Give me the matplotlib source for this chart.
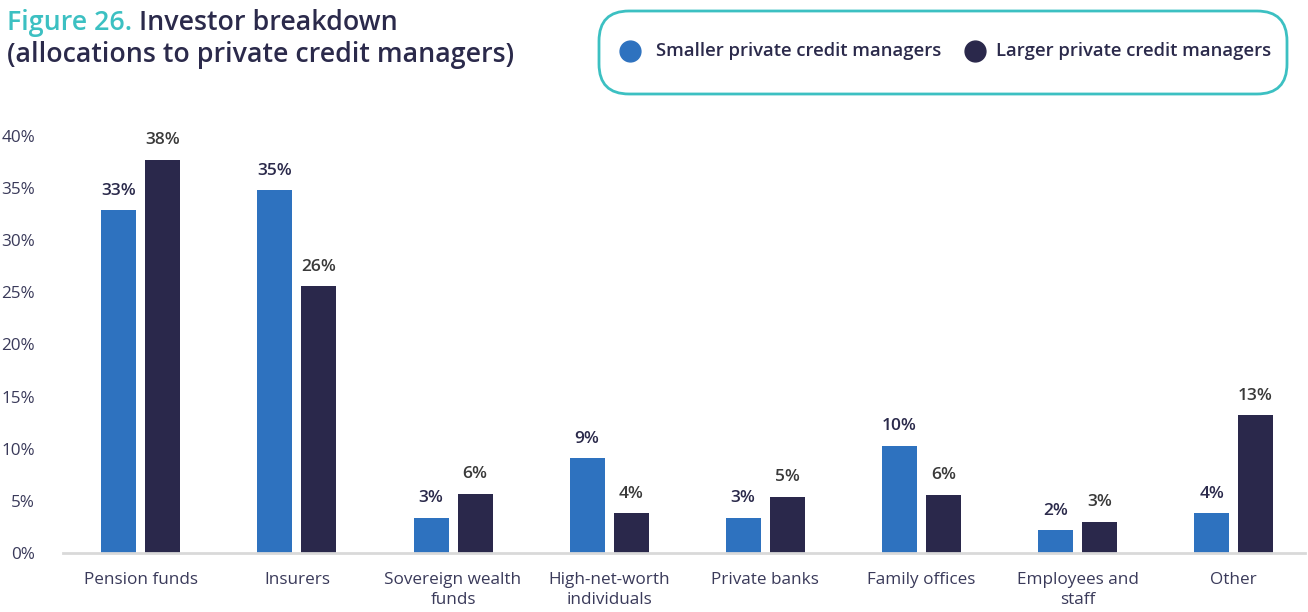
import matplotlib.pyplot as plt
import numpy as np
from matplotlib.patches import FancyBboxPatch
from matplotlib.lines import Line2D

categories = ['Pension funds', 'Insurers', 'Sovereign wealth\nfunds', 'High-net-worth\nindividuals',
              'Private banks', 'Family offices', 'Employees and\nstaff', 'Other']
smaller = [32.9, 34.8, 3.4, 9.1, 3.4, 10.3, 2.2, 3.8]
larger = [37.7, 25.6, 5.7, 3.8, 5.4, 5.6, 3.0, 13.2]
series_names = ['Smaller private credit managers', 'Larger private credit managers']
yticks = [0, 5, 10, 15, 20, 25, 30, 35, 40]

c_small = '#2e72bf'
c_large = '#2a284b'
navy = '#2b2a4b'
teal = '#3cc0c2'

plt.rcParams['font.family'] = ['Open Sans', 'DejaVu Sans']

fig = plt.figure(figsize=(13.08, 6.12), dpi=100)
ax = fig.add_axes([0.048, 0.0964, 0.95, 0.6814])

x = np.arange(len(categories))
w = 0.224
off = 0.141
ax.bar(x - off, smaller, w, color=c_small)
ax.bar(x + off, larger, w, color=c_large)

for xi, v in zip(x, smaller):
    ax.text(xi - off, v + 1.1, f'{round(v)}%', ha='center', va='bottom',
            fontsize=12.5, fontweight='semibold', color=navy)
for xi, v in zip(x, larger):
    ax.text(xi + off, v + 1.1, f'{round(v)}%', ha='center', va='bottom',
            fontsize=12.5, fontweight='semibold', color='#3a3a3a')

ax.set_xlim(-0.5, 7.46)
ax.set_ylim(0, 40)
ax.set_yticks(yticks)
ax.set_yticklabels([f'{t}%' for t in yticks])
ax.set_xticks(x)
ax.set_xticklabels(categories, linespacing=1.3)
ax.tick_params(axis='both', length=0, labelsize=12.3, labelcolor='#3a3a5a')
ax.tick_params(axis='x', pad=14)
ax.tick_params(axis='y', pad=20)
for s in ['top', 'right', 'left']:
    ax.spines[s].set_visible(False)
ax.spines['bottom'].set_color('#d9d9d9')
ax.spines['bottom'].set_linewidth(2)

# title
t1 = fig.text(0.005, 0.962, 'Figure 26.', fontsize=19.3, fontweight='semibold', color=teal,
              ha='left', va='center')
fig.canvas.draw()
bb = t1.get_window_extent()
fig.text((bb.x1 + 7) / 1308, 0.962, 'Investor breakdown', fontsize=19.3, fontweight='semibold',
         color=navy, ha='left', va='center')
fig.text(0.005, 0.91, '(allocations to private credit managers)', fontsize=19.3,
         fontweight='semibold', color=navy, ha='left', va='center')

# legend box (pixel coordinates)
box = FancyBboxPatch((599, 612 - 94), 688, 83,
                     boxstyle='round,pad=0,rounding_size=30', transform=None,
                     facecolor='white', edgecolor=teal, linewidth=2)
fig.patches.append(box)
ly = 1 - 51 / 612
for cx, tx, col, name in [(630, 656, c_small, series_names[0]), (975, 996, c_large, series_names[1])]:
    fig.add_artist(Line2D([cx / 1308], [ly], marker='o', markersize=15, color=col,
                          transform=fig.transFigure))
    fig.text(tx / 1308, ly, name, fontsize=13.3, fontweight='semibold', color=navy,
             ha='left', va='center')

fig.savefig('out.png', dpi=100)
